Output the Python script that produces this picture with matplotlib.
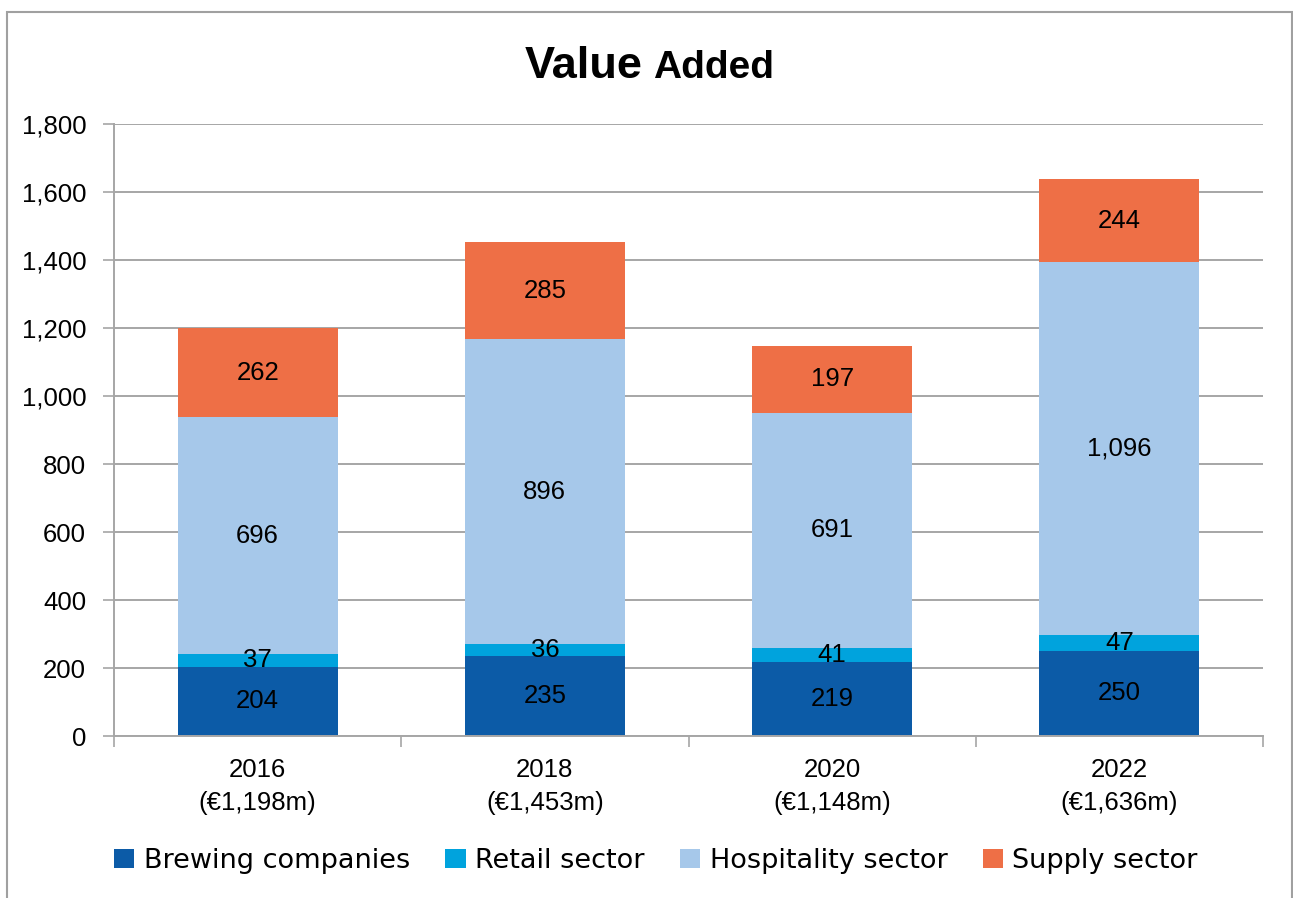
import numpy as np
import matplotlib.pyplot as plt
from matplotlib.patches import Rectangle

years = ['2016', '2018', '2020', '2022']
totals = ['(€1,198m)', '(€1,453m)', '(€1,148m)', '(€1,636m)']
brewing = [204, 235, 219, 250]
retail = [37, 36, 41, 47]
hospitality = [696, 896, 691, 1096]
supply = [262, 285, 197, 244]

series = [('Brewing companies', brewing, '#0C5BA7'),
          ('Retail sector', retail, '#00A3DD'),
          ('Hospitality sector', hospitality, '#A6C8EA'),
          ('Supply sector', supply, '#EE6F46')]

fig = plt.figure(figsize=(12.93, 8.98), dpi=100)
ax = fig.add_axes([114/1293, 162/898, 1149/1293, 612/898])

x = np.arange(len(years))
bottom = np.zeros(len(years))
for name, vals, col in series:
    vals = np.array(vals)
    ax.bar(x, vals, width=0.557, bottom=bottom, color=col, label=name, zorder=2)
    for xi, b, v in zip(x, bottom, vals):
        ax.text(xi, b + v / 2, f'{v:,}', ha='center', va='center',
                fontsize=18.5, family='Liberation Sans', color='black', zorder=3)
    bottom += vals

ax.set_xlim(-0.5, len(years) - 0.5)
ax.set_ylim(0, 1800)
ax.set_yticks(np.arange(0, 1801, 200))
ax.set_yticklabels([f'{v:,}' for v in range(0, 1801, 200)], family='Liberation Sans', fontsize=18.5)
ax.yaxis.grid(True, color='#A6A6A6', linewidth=1.4, zorder=0)
ax.set_axisbelow(True)

ax.set_xticks(x)
ax.set_xticklabels([f'{y}\n{t}' for y, t in zip(years, totals)], family='Liberation Sans',
                   fontsize=18.5, linespacing=1.45)
ax.set_xticks(np.arange(-0.5, len(years)), minor=True)
ax.tick_params(axis='x', which='major', length=0, pad=16)
ax.tick_params(axis='x', which='minor', length=8, color='#A6A6A6', width=1.2)
ax.tick_params(axis='y', length=8, color='#A6A6A6', width=1.2, pad=12)

for s in ['top', 'right']:
    ax.spines[s].set_visible(False)
for s in ['left', 'bottom']:
    ax.spines[s].set_color('#A6A6A6')
    ax.spines[s].set_linewidth(1.4)

# title, "Value" set a little larger than "Added"
fig.text(643/1293, 1 - 78/898, 'Value', ha='right', va='baseline',
         fontsize=32.5, fontweight='bold', family='Liberation Sans')
fig.text(653/1293, 1 - 78/898, 'Added', ha='left', va='baseline',
         fontsize=28, fontweight='bold', family='Liberation Sans')

fig.legend(loc='center', bbox_to_anchor=(656/1293, 1 - 861/898), ncol=4, frameon=False,
           prop={'family': 'DejaVu Sans', 'size': 19.5}, handlelength=0.75, handleheight=0.75,
           handletextpad=0.35, columnspacing=1.3)

fig.patches.append(Rectangle((7/1293, -0.05), 1285/1293, 1.05 - 12/898, transform=fig.transFigure,
                             fill=False, edgecolor='#A0A0A0', linewidth=1.5))

fig.savefig('out.png', dpi=100)
